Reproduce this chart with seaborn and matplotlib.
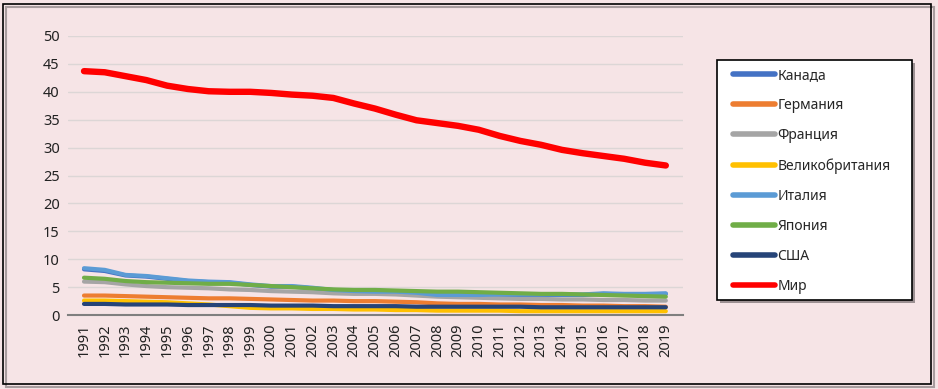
import pandas as pd
import seaborn as sns
import matplotlib.pyplot as plt
from matplotlib.patches import Rectangle

# Data
years = list(range(1991, 2020))
canada = [8.2, 7.9, 7.1, 6.9, 6.5, 6.1, 5.9, 5.8, 5.4, 5.1, 5.1, 4.8, 4.4, 4.2, 4.1,
          4.1, 3.9, 3.5, 3.5, 3.5, 3.6, 3.6, 3.6, 3.6, 3.6, 3.8, 3.7, 3.7, 3.8]
germany = [3.5, 3.5, 3.4, 3.3, 3.2, 3.1, 3.0, 3.0, 2.9, 2.8, 2.7, 2.6, 2.6, 2.5, 2.5,
           2.4, 2.3, 2.1, 2.0, 2.0, 1.9, 1.9, 1.8, 1.8, 1.7, 1.7, 1.6, 1.6, 1.5]
france = [6.0, 5.9, 5.5, 5.2, 5.0, 4.9, 4.8, 4.6, 4.5, 4.3, 4.2, 4.1, 3.9, 3.8, 3.8,
          3.7, 3.5, 3.3, 3.2, 3.1, 3.0, 2.9, 2.9, 2.8, 2.8, 2.7, 2.7, 2.6, 2.6]
uk = [2.6, 2.6, 2.5, 2.4, 2.3, 2.1, 1.9, 1.6, 1.3, 1.2, 1.2, 1.1, 1.1, 1.0, 1.0,
      0.9, 0.9, 0.8, 0.8, 0.8, 0.8, 0.7, 0.7, 0.7, 0.7, 0.7, 0.7, 0.7, 0.7]
italy = [8.4, 8.1, 7.2, 7.0, 6.6, 6.2, 6.0, 5.9, 5.5, 5.2, 5.2, 4.9, 4.5, 4.3, 4.2,
         4.2, 4.0, 3.6, 3.6, 3.6, 3.7, 3.7, 3.7, 3.7, 3.7, 3.9, 3.8, 3.8, 3.9]
japan = [6.7, 6.5, 6.1, 5.9, 5.8, 5.7, 5.6, 5.6, 5.4, 5.2, 5.0, 4.8, 4.6, 4.5, 4.5,
         4.4, 4.3, 4.2, 4.2, 4.1, 4.0, 3.9, 3.8, 3.8, 3.7, 3.6, 3.5, 3.4, 3.3]
usa = [2.0, 2.0, 1.9, 1.9, 1.9, 1.8, 1.8, 1.8, 1.8, 1.7, 1.7, 1.7, 1.6, 1.6, 1.6,
       1.6, 1.5, 1.5, 1.5, 1.5, 1.5, 1.5, 1.4, 1.4, 1.4, 1.4, 1.4, 1.4, 1.4]
world = [43.7, 43.5, 42.8, 42.1, 41.1, 40.5, 40.1, 40.0, 40.0, 39.8, 39.5, 39.3, 38.9, 37.9, 37.0,
         35.9, 34.9, 34.4, 33.9, 33.2, 32.1, 31.2, 30.5, 29.6, 29.0, 28.5, 28.0, 27.3, 26.8]

names = ["Канада", "Германия", "Франция", "Великобритания", "Италия", "Япония", "США", "Мир"]
series = [canada, germany, france, uk, italy, japan, usa, world]
colors = ["#4472C4", "#ED7D31", "#A5A5A5", "#FFC000", "#5B9BD5", "#70AD47", "#264478", "#FF0000"]

df = pd.concat([pd.DataFrame({"pos": range(len(years)), "value": v, "country": n})
                for n, v in zip(names, series)])

sns.set_style("white")
plt.rcParams["font.family"] = ["Noto Sans", "DejaVu Sans"]

bg = "#F6E4E6"
fig = plt.figure(figsize=(9.38, 3.89), dpi=100, facecolor=bg)
ax = fig.add_axes([0.0725, 0.19, 0.6555, 0.7175])
ax.set_facecolor(bg)

sns.lineplot(data=df, x="pos", y="value", hue="country", hue_order=names,
             palette=dict(zip(names, colors)), ax=ax, linewidth=3.0, legend=True)
for line in ax.lines:
    if line.get_color().lower() == "#ff0000":
        line.set_linewidth(4.6)
    line.set_solid_capstyle("round")

ax.set_ylim(0, 50)
ax.set_yticks(range(0, 51, 5))
ax.set_xlim(-0.77, len(years) - 1 + 0.82)
ax.set_xticks(range(len(years)))
ax.set_xticklabels([str(y) for y in years], rotation=90)
ax.tick_params(axis="both", labelsize=10.5, colors="#222222", length=0, pad=6)
ax.yaxis.grid(True, color="#DCD6D6", linewidth=1)
ax.set_axisbelow(True)
for s in ["top", "right", "left"]:
    ax.spines[s].set_visible(False)
ax.spines["bottom"].set_color("#7F7F7F")
ax.spines["bottom"].set_linewidth(1.5)
ax.set_xlabel("")
ax.set_ylabel("")

# Legend box drawn by hand, entries placed inside it
fig.patches.append(Rectangle((0.7676, 0.2211), 0.2079, 0.617, transform=fig.transFigure,
                             facecolor="#9C9092", edgecolor="none", zorder=1))
fig.patches.append(Rectangle((0.7644, 0.2288), 0.2079, 0.617, transform=fig.transFigure,
                             facecolor="white", edgecolor="black", linewidth=1.2, zorder=2))

handles, labels = ax.get_legend_handles_labels()
ax.get_legend().remove()
for h in handles:
    h.set_linewidth(4)
leg = fig.legend(handles, labels, loc="upper left", bbox_to_anchor=(0.7815, 0.825),
                 bbox_transform=fig.transFigure, borderaxespad=0, borderpad=0,
                 frameon=False, fontsize=10, handlelength=3.0, handletextpad=0.2,
                 labelspacing=1.08)
leg.set_zorder(5)

# Outer border of the chart with a soft shadow
fig.patches.append(Rectangle((0.006, 0.004), 0.99, 0.978, transform=fig.transFigure,
                             fill=False, edgecolor="#A89C9E", linewidth=1.5))
fig.patches.append(Rectangle((0.003, 0.012), 0.99, 0.978, transform=fig.transFigure,
                             fill=False, edgecolor="black", linewidth=1.2))

fig.savefig("out.png", dpi=100, facecolor=bg)
